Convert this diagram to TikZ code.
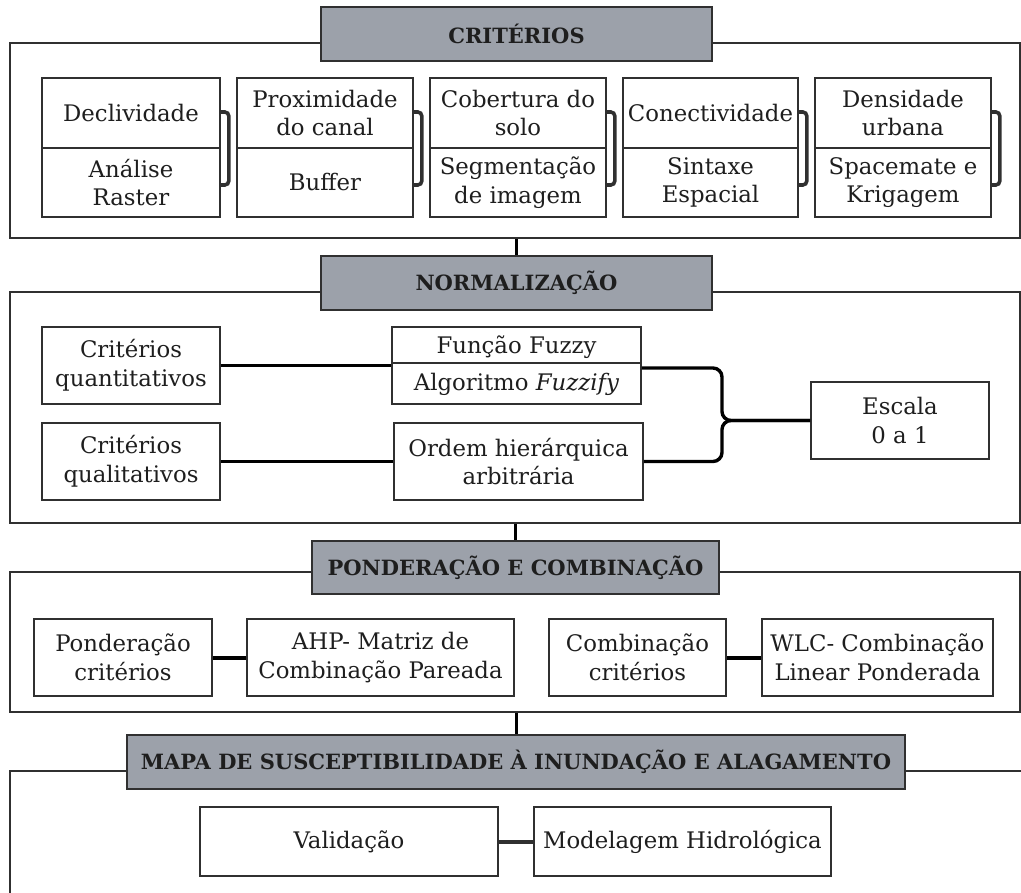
\documentclass[tikz,border=0pt]{standalone}
\usepackage{fontspec}
\setmainfont{DejaVu Serif}
\usetikzlibrary{calc}
\definecolor{hdrfill}{HTML}{9CA1AA}
\definecolor{ink}{HTML}{1E1E1E}
\definecolor{edge}{HTML}{303030}
\tikzset{
  frame/.style={draw=edge, line width=1.6pt, fill=white, inner sep=0pt},
  hdr/.style={draw=edge, line width=1.8pt, fill=hdrfill, inner sep=0pt, text=ink,
     font=\bfseries\fontsize{21}{27}\selectfont},
  box/.style={draw=edge, line width=1.6pt, fill=white, inner sep=0pt, align=center, text=ink,
     font=\fontsize{22.8}{28.5}\selectfont},
  txt/.style={inner sep=0pt, align=center, text=ink, font=\fontsize{22.8}{28.5}\selectfont},
  conn/.style={draw=black, line width=3.4pt},
  vconn/.style={draw=black, line width=3pt},
  bracket/.style={draw=edge, line width=3.6pt, rounded corners=4pt},
}
\begin{document}
\begin{tikzpicture}[x=1pt,y=-1pt]
\useasboundingbox (0,0) rectangle (1021,893);
% ---------- frames ----------
\node[frame, minimum width=1010, minimum height=195] (f1) at (515,140.5) {};
\node[frame, minimum width=1010, minimum height=231] (f2) at (515,407.5) {};
\node[frame, minimum width=1010, minimum height=140] (f3) at (515,642) {};
\coordinate (f4tr) at (1021,771);
\coordinate (f4tl) at (10,771);
\coordinate (f4bl) at (10,893);
\draw[edge, line width=1.6pt] (f4tr) -- (f4tl) -- (f4bl);
% ---------- headers ----------
\node[hdr, minimum width=391, minimum height=54] (h1) at (516.5,34) {CRITÉRIOS};
\node[hdr, minimum width=391, minimum height=54] (h2) at (516.5,283) {NORMALIZAÇÃO};
\node[hdr, minimum width=407, minimum height=53] (h3) at (515.5,567.5) {PONDERAÇÃO E COMBINAÇÃO};
\node[hdr, minimum width=778, minimum height=54] (h4) at (516,762) {MAPA DE SUSCEPTIBILIDADE À INUNDAÇÃO E ALAGAMENTO};
% vertical connectors between sections
\draw[vconn] (h2.north |- f1.south) -- (h2.north);
\draw[vconn] (h3.north |- f2.south) -- (h3.north);
\draw[vconn] (h4.north |- f3.south) -- (h4.north);
% ---------- section 1: criteria ----------
\foreach \n/\cx/\w/\top/\bot in {
  c1/131/178/{Declividade}/{Análise\\Raster},
  c2/325/176/{Proximidade\\do canal}/{Buffer},
  c3/518/176/{Cobertura do\\solo}/{Segmentação\\de imagem},
  c4/710.5/175/{Conectividade}/{Sintaxe\\Espacial},
  c5/903/176/{Densidade\\urbana}/{Spacemate e\\Krigagem}}{
  \node[box, minimum width=\w, minimum height=139] (\n) at (\cx,147.5) {};
  \draw[edge, line width=1.4pt] (\n.west |- 0,148) -- (\n.east |- 0,148);
  \node[txt] (\n t) at ($(\n.center)+(0,-34.5)$) {\top};
  \node[txt] (\n b) at ($(\n.center)+(0,35)$) {\bot};
  \draw[bracket] ($(\n.east)+(0,-35.5)$) -- ++(8,0) -- ++(0,73) -- ++(-8,0);
}
% ---------- section 2: normalization ----------
\node[box, minimum width=178, minimum height=77] (cquant) at (131,365.5) {Critérios\\quantitativos};
\node[box, minimum width=178, minimum height=77] (cqual) at (131,461.5) {Critérios\\qualitativos};
\node[box, minimum width=249, minimum height=77] (fuzzy) at (516.5,365.5) {};
\draw[edge, line width=1.4pt] (fuzzy.west |- 0,363) -- (fuzzy.east |- 0,363);
\node[txt] (fuzzyt) at (516.5,347) {Função Fuzzy};
\node[txt] (fuzzyb) at (516.5,384) {Algoritmo \textit{Fuzzify}};
\node[box, minimum width=249, minimum height=77] (ordem) at (518.5,461.5) {Ordem hierárquica\\arbitrária};
\node[box, minimum width=178, minimum height=77] (escala) at (900,420.5) {Escala\\0 a 1};
\draw[conn] (cquant.east) -- (fuzzy.west);
\draw[conn] (cqual.east) -- (ordem.west);
\coordinate (brk) at (722,420.5);
\draw[conn, rounded corners=9pt] (fuzzy.east |- 0,368) -- (brk |- 0,368) -- (brk) -- (escala.west);
\draw[conn, rounded corners=9pt] (ordem.east) -- (brk |- ordem.east) -- (brk) -- (escala.west);
% ---------- section 3: weighting ----------
\node[box, minimum width=178, minimum height=77] (pond) at (123,657.5) {Ponderação\\critérios};
\node[box, minimum width=267, minimum height=77] (ahp) at (380.5,657.5) {AHP- Matriz de\\Combinação Pareada};
\node[box, minimum width=177, minimum height=77] (comb) at (637.5,657.5) {Combinação\\critérios};
\node[box, minimum width=231, minimum height=77] (wlc) at (877.5,657.5) {WLC- Combinação\\Linear Ponderada};
\draw[conn, line width=4pt] (pond.east) -- (ahp.west);
\draw[conn, line width=4pt] (comb.east) -- (wlc.west);
% ---------- section 4: map ----------
\node[box, minimum width=298, minimum height=69] (val) at (349,841.5) {Validação};
\node[box, minimum width=297, minimum height=69] (mod) at (682.5,841.5) {Modelagem Hidrológica};
\draw[conn, draw=edge, line width=4pt] (val.east) -- (mod.west);
\end{tikzpicture}
\end{document}
